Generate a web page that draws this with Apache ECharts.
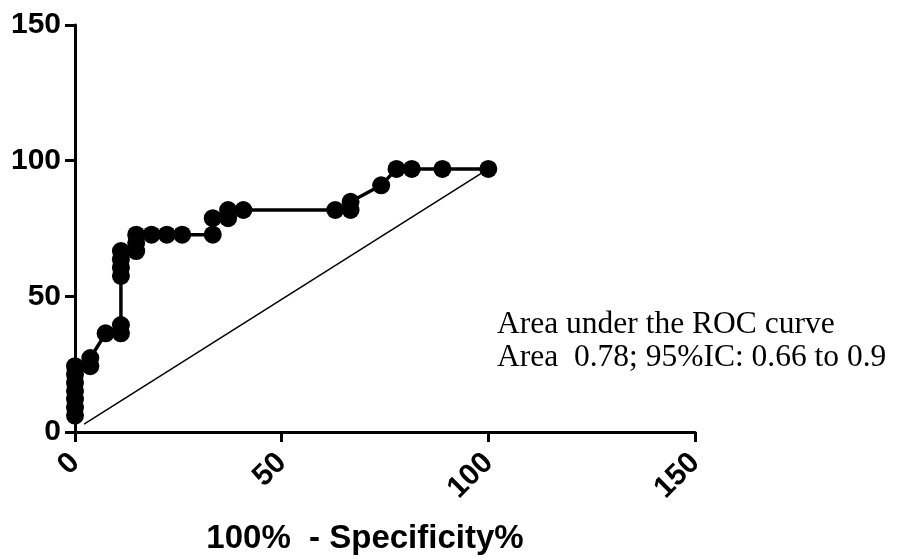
<!DOCTYPE html>
<html>
<head>
<meta charset="utf-8">
<script src="https://cdn.jsdelivr.net/npm/echarts@6/dist/echarts.min.js"></script>
<style>
html,body{margin:0;padding:0;background:#fff;}
#chart{width:898px;height:560px;}
</style>
</head>
<body>
<div id="chart"></div>
<script>
// ROC curve points (100% - Specificity%, Sensitivity%)
const rocX = [0, 0, 0, 0, 0, 0, 0,
  3.7, 3.7,
  7.41,
  11.11, 11.11, 11.11, 11.11, 11.11, 11.11,
  14.81, 14.81, 14.81,
  18.52, 22.22, 25.93,
  33.33, 33.33,
  37.04, 37.04,
  40.74, 62.96,
  66.67, 66.67,
  74.07, 77.78, 81.48, 88.89, 100];
const rocY = [6.06, 9.09, 12.12, 15.15, 18.18, 21.21, 24.24,
  24.24, 27.27,
  36.36,
  36.36, 39.39, 57.58, 60.61, 63.64, 66.67,
  66.67, 69.70, 72.73,
  72.73, 72.73, 72.73,
  72.73, 78.79,
  78.79, 81.82,
  81.82, 81.82,
  81.82, 84.85,
  90.91, 96.97, 96.97, 96.97, 96.97];
// reference (chance) line
const diagX = [2.2, 100];
const diagY = [2.9, 96.97];
// axes
const xTicks = [0, 50, 100, 150];
const yTicks = [0, 50, 100, 150];
const xTitle = '100%  - Specificity%';
const noteLines = ['Area under the ROC curve', 'Area  0.78; 95%IC: 0.66 to 0.9'];

const rocData = rocX.map((x, i) => [x, rocY[i]]);
const diagData = diagX.map((x, i) => [x, diagY[i]]);

const chart = echarts.init(document.getElementById('chart'), null, {renderer: 'canvas'});
const axisFont = 'Liberation Sans, Arial, sans-serif';
chart.setOption({
  animation: false,
  backgroundColor: '#fff',
  grid: {left: 75, right: 203, top: 25, bottom: 127, containLabel: false},
  xAxis: {
    type: 'value',
    min: xTicks[0], max: xTicks[xTicks.length - 1], interval: xTicks[1] - xTicks[0],
    axisLine: {show: true, onZero: false, lineStyle: {color: '#000', width: 3}},
    axisTick: {show: true, length: 10, lineStyle: {color: '#000', width: 3}},
    splitLine: {show: false},
    axisLabel: {rotate: 45, margin: 26, fontSize: 30, fontWeight: 'bold', color: '#000', fontFamily: axisFont},
    name: xTitle,
    nameLocation: 'middle',
    nameGap: 90,
    nameTextStyle: {fontSize: 33, fontWeight: 'bold', color: '#000', fontFamily: axisFont, padding: [0, 40, 0, 0]}
  },
  yAxis: {
    type: 'value',
    min: yTicks[0], max: yTicks[yTicks.length - 1], interval: yTicks[1] - yTicks[0],
    axisLine: {show: true, onZero: false, lineStyle: {color: '#000', width: 3}},
    axisTick: {show: true, length: 10, lineStyle: {color: '#000', width: 3}},
    splitLine: {show: false},
    axisLabel: {margin: 14, fontSize: 30, fontWeight: 'bold', color: '#000', fontFamily: axisFont}
  },
  series: [
    {
      type: 'line',
      data: diagData,
      symbol: 'none',
      lineStyle: {color: '#000', width: 1.5},
      z: 1
    },
    {
      type: 'line',
      data: rocData,
      symbol: 'circle',
      symbolSize: 18,
      itemStyle: {color: '#000'},
      lineStyle: {color: '#000', width: 3.5},
      z: 2
    }
  ],
  graphic: [
    {
      type: 'text',
      left: 497,
      top: 308,
      style: {
        text: noteLines.join('\n'),
        font: '31.5px "Liberation Serif", "Times New Roman", serif',
        lineHeight: 33,
        fill: '#000'
      }
    }
  ]
});
</script>
</body>
</html>
